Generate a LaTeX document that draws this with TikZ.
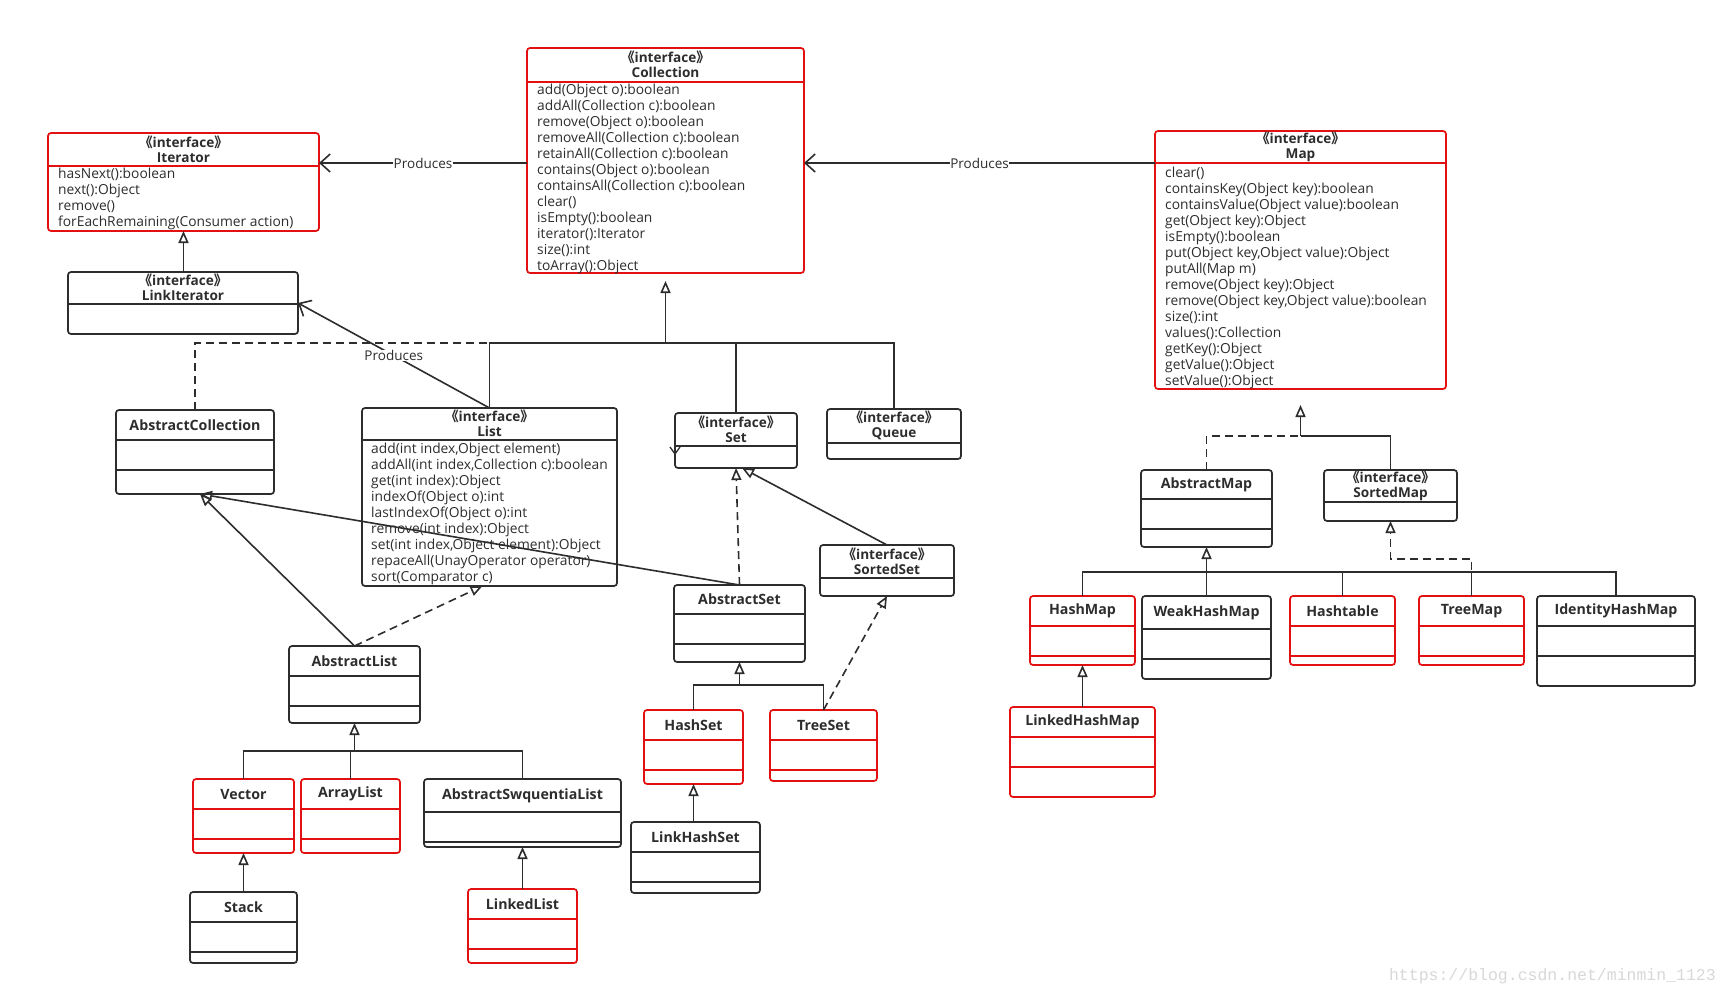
\documentclass[tikz,border=0pt]{standalone}
\usepackage{fontspec}
\setmainfont{Open Sans}
\newfontfamily\cjk{Noto Sans CJK SC}
\newfontfamily\wmfont{Liberation Mono}
\usetikzlibrary{arrows.meta,calc}
\definecolor{ured}{RGB}{226,16,16}
\definecolor{ugray}{RGB}{45,45,45}
\definecolor{wmgray}{RGB}{216,216,216}
\newcommand{\stereo}{{\cjk 《}interface{\cjk 》}}

% class box: name, fields and methods compartments
\newcommand{\umlclass}[8]{%
  \node[box, draw=#1, minimum width=#5pt, minimum height=#6pt] (#2) at (#3,#4) {};
  \node[cname] (#2-n) at ([yshift=-#7pt/2]#2.north) {#8};
  \draw[divline, draw=#1] ([yshift=-#7pt]#2.north west) -- ([yshift=-#7pt]#2.north east);
  \draw[divline, draw=#1] ([yshift=-#7pt-30pt]#2.north west) -- ([yshift=-#7pt-30pt]#2.north east);
}
% interface box: stereotype + name, one compartment
\newcommand{\umlface}[8]{%
  \node[box, draw=#1, minimum width=#5pt, minimum height=#6pt] (#2) at (#3,#4) {};
  \node[iname] (#2-n) at ([yshift=-#7pt/2+0.5pt]#2.north) {\stereo\\#8};
  \draw[divline, draw=#1] ([yshift=-#7pt]#2.north west) -- ([yshift=-#7pt]#2.north east);
}

\begin{document}
\begin{tikzpicture}[x=1pt,y=-1pt]
	% styles
	\tikzset{
		box/.style={draw, rectangle, rounded corners=3pt, line width=1.7pt, anchor=north west, inner sep=0pt, outer sep=0pt, fill=white},
		divline/.style={line width=1.7pt},
		cname/.style={inner sep=0pt, text=ugray, font=\bfseries\fontsize{14.2}{15}\selectfont},
		iname/.style={cname, align=center, font=\bfseries\fontsize{13.6}{15.2}\selectfont},
		members/.style={anchor=north west, inner sep=0pt, align=left, text=ugray, font=\fontsize{13.8}{16}\selectfont},
		conn/.style={draw=ugray, line width=1.6pt},
		dline/.style={conn, dash pattern=on 8pt off 5pt},
		inherit/.style={conn, -{Triangle[open, length=12pt, width=10pt]}},
		realize/.style={dline, -{Triangle[open, length=12pt, width=10pt]}},
		produces/.style={conn, -{Straight Barb[length=10pt, width=18pt]}},
		lbl/.style={fill=white, inner sep=0.5pt, text=ugray, font=\fontsize{13.5}{15}\selectfont},
		wm/.style={text=wmgray, inner sep=0pt, font=\wmfont\fontsize{16.5}{18}\selectfont}
	}
	\path[use as bounding box, fill=white] (0,0) rectangle (1728,995);

	% interfaces on top
	\umlface{ured}{Iterator}{48}{133}{271}{98}{33}{Iterator}
	\node[members] (Iterator-m) at ([xshift=10pt,yshift=-35pt]Iterator.north west) {hasNext():boolean\\next():Object\\remove()\\forEachRemaining(Consumer action)};
	\umlface{ugray}{LinkIterator}{68}{272}{230}{62}{32}{LinkIterator}
	\umlface{ured}{Collection}{527}{48}{277}{225}{34}{Collection}
	\node[members] (Collection-m) at ([xshift=10pt,yshift=-36pt]Collection.north west) {add(Object o):boolean\\addAll(Collection c):boolean\\remove(Object o):boolean\\removeAll(Collection c):boolean\\retainAll(Collection c):boolean\\contains(Object o):boolean\\containsAll(Collection c):boolean\\clear()\\isEmpty():boolean\\iterator():Iterator\\size():int\\toArray():Object};
	\umlface{ured}{Map}{1155}{131}{291}{258}{32}{Map}
	\node[members] (Map-m) at ([xshift=10pt,yshift=-36pt]Map.north west) {clear()\\containsKey(Object key):boolean\\containsValue(Object value):boolean\\get(Object key):Object\\isEmpty():boolean\\put(Object key,Object value):Object\\putAll(Map m)\\remove(Object key):Object\\remove(Object key,Object value):boolean\\size():int\\values():Collection\\getKey():Object\\getValue():Object\\setValue():Object};

	% collection branch
	\umlclass{ugray}{AbstractCollection}{116}{410}{158}{84}{30}{AbstractCollection}
	\umlface{ugray}{List}{362}{408}{255}{178}{32}{List}
	\node[members] (List-m) at ([xshift=9pt,yshift=-35pt]List.north west) {add(int index,Object element)\\addAll(int index,Collection c):boolean\\get(int index):Object\\indexOf(Object o):int\\lastIndexOf(Object o):int\\remove(int index):Object\\set(int index,Object element):Object\\repaceAll(UnayOperator operator)\\sort(Comparator c)};
	\umlface{ugray}{Set}{675}{413}{122}{55}{33}{Set}
	\umlface{ugray}{Queue}{827}{409}{134}{50}{34}{Queue}
	\umlface{ugray}{SortedSet}{820}{545}{134}{51}{33}{SortedSet}
	\umlclass{ugray}{AbstractSet}{674}{585}{131}{77}{29}{AbstractSet}
	\umlclass{ugray}{AbstractList}{289}{646}{131}{77}{30}{AbstractList}
	\umlclass{ured}{Vector}{193}{779}{101}{74}{30}{Vector}
	\umlclass{ured}{ArrayList}{301}{779}{99}{74}{30}{ArrayList}
	\umlclass{ugray}{AbstractSeq}{424}{779}{197}{68}{33}{AbstractSwquentiaList}
	\umlclass{ugray}{Stack}{190}{892}{107}{71}{30}{Stack}
	\umlclass{ured}{LinkedList}{468}{889}{109}{74}{30}{LinkedList}
	\umlclass{ured}{HashSet}{644}{710}{99}{74}{30}{HashSet}
	\umlclass{ured}{TreeSet}{770}{710}{107}{71}{30}{TreeSet}
	\umlclass{ugray}{LinkHashSet}{631}{822}{129}{71}{30}{LinkHashSet}

	% map branch
	\umlclass{ugray}{AbstractMap}{1141}{470}{131}{77}{29}{AbstractMap}
	\umlface{ugray}{SortedMap}{1324}{470}{133}{51}{32}{SortedMap}
	\umlclass{ured}{HashMap}{1030}{596}{105}{69}{30}{HashMap}
	\umlclass{ugray}{WeakHashMap}{1142}{596}{129}{83}{33}{WeakHashMap}
	\umlclass{ured}{Hashtable}{1290}{596}{105}{69}{30}{Hashtable}
	\umlclass{ured}{TreeMap}{1419}{596}{105}{69}{30}{TreeMap}
	\umlclass{ugray}{IdentityHashMap}{1537}{596}{158}{90}{30}{IdentityHashMap}
	\umlclass{ured}{LinkedHashMap}{1010}{707}{145}{90}{30}{LinkedHashMap}

	% produces
	\draw[produces] ([yshift=-115pt]Collection.north west) -- ([yshift=-30pt]Iterator.north east) node[lbl, midway] (prod1) {Produces};
	\draw[produces] ([yshift=-32pt]Map.north west) -- ([yshift=-115pt]Collection.north east) node[lbl, midway] (prod2) {Produces};
	\draw[produces] (List.north) -- ([yshift=-31pt]LinkIterator.north east) node[lbl, midway] (prod3) {Produces};

	% collection hierarchy
	\coordinate (cbus) at ([yshift=-70pt]Collection.south);
	\draw[dline] (AbstractCollection.north) |- (cbus);
	\draw[conn] (List.north) |- (cbus);
	\draw[conn] (Set.north) |- (cbus);
	\draw[conn] (Queue.north) |- (cbus);
	\draw[inherit, shorten >=8pt] (cbus) -- (Collection.south);
	\draw[inherit] (LinkIterator.north -| Iterator.south) -- (Iterator.south);
	\draw[conn, line width=1.3pt] ([xshift=-5pt,yshift=-34pt]Set.north west) -- ++(5pt,-7pt) -- ++(5pt,7pt) ++(-5pt,-7pt) -- ++(0,-4pt);

	\draw[inherit] (AbstractList.north) -- ([xshift=5pt]AbstractCollection.south);
	\draw[inherit] (AbstractSet.north) -- ([xshift=5pt]AbstractCollection.south);
	\draw[realize] (AbstractList.north) -- ([xshift=-7pt]List.south);
	\draw[realize] (AbstractSet.north) -- (Set.south);
	\draw[inherit] (SortedSet.north) -- ([xshift=6pt]Set.south);

	\coordinate (asbus) at ([yshift=-23pt]AbstractSet.south);
	\draw[conn] (HashSet.north) |- (asbus);
	\draw[conn] (TreeSet.north) |- (asbus);
	\draw[inherit] (asbus) -- (AbstractSet.south);
	\draw[realize] (TreeSet.north) -- (SortedSet.south);
	\draw[inherit] (LinkHashSet.north -| HashSet.south) -- (HashSet.south);

	\coordinate (albus) at ([yshift=-28pt]AbstractList.south);
	\draw[conn] (Vector.north) |- (albus);
	\draw[conn] (ArrayList.north) |- (albus);
	\draw[conn] (AbstractSeq.north) |- (albus);
	\draw[inherit] (albus) -- (AbstractList.south);
	\draw[inherit] (Stack.north -| Vector.south) -- (Vector.south);
	\draw[inherit] (LinkedList.north -| AbstractSeq.south) -- (AbstractSeq.south);

	% map hierarchy
	\coordinate (mbus) at ([yshift=-47pt]Map.south);
	\draw[dline] (AbstractMap.north) |- (mbus);
	\draw[conn] (SortedMap.north) |- (mbus);
	\draw[inherit, shorten >=16pt] (mbus) -- (Map.south);
	\coordinate (ambus) at ([yshift=-25pt]AbstractMap.south);
	\foreach \kid in {HashMap, WeakHashMap, Hashtable, TreeMap, IdentityHashMap}
		\draw[conn] (\kid.north) |- (ambus);
	\draw[inherit] (ambus) -- (AbstractMap.south);
	\draw[realize] (TreeMap.north) -- ++(0,37pt) -| (SortedMap.south);
	\draw[inherit] (LinkedHashMap.north -| HashMap.south) -- (HashMap.south);

	\node[wm, anchor=east] (watermark) at (1716,976) {https://blog.csdn.net/minmin\_1123};
\end{tikzpicture}
\end{document}
